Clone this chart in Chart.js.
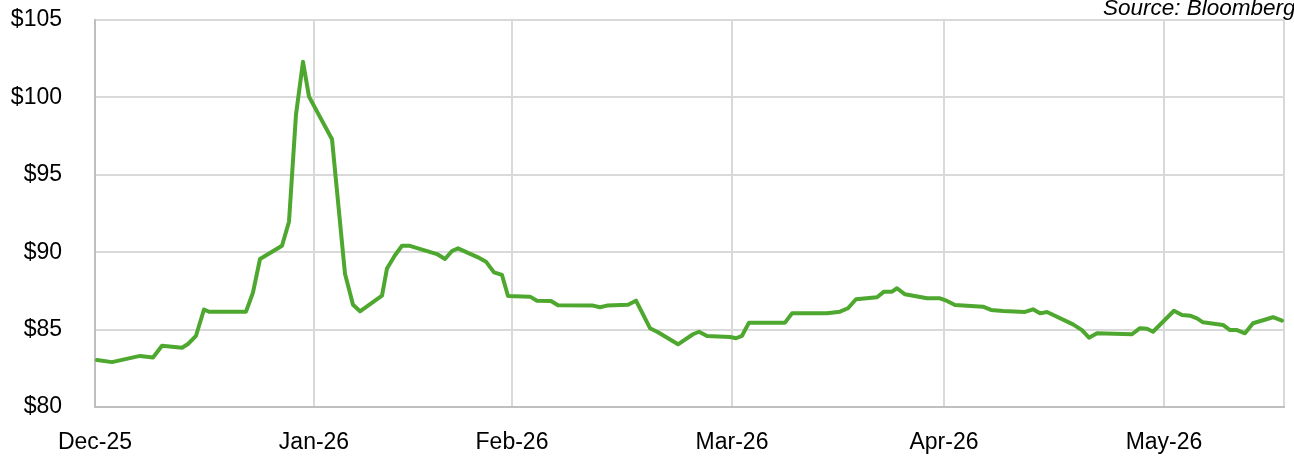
<!DOCTYPE html>
<html>
<head>
<meta charset="utf-8">
<title>Price</title>
<script src="https://cdn.jsdelivr.net/npm/chart.js@4.4.1/dist/chart.umd.min.js"></script>
<style>
  html, body { margin: 0; padding: 0; background: #ffffff; }
  #wrap { width: 1294px; height: 462px; position: relative; }
</style>
</head>
<body>
<div id="wrap"><canvas id="chart" width="1294" height="462"></canvas></div>
<script>
// Session position along the time axis (trading-day index) and closing price
const sessions = [
  0.2, 1.7, 4.5, 5.8, 6.7, 8.7, 9.3, 10.1, 10.9, 11.4,
  15.1, 15.8, 16.5, 18.7, 19.4, 20.1, 20.8, 21.4, 23.7, 25.0,
  25.8, 26.5, 28.7, 29.2, 30.0, 30.7, 31.4, 34.2, 35.0, 35.7,
  36.3, 38.3, 39.1, 39.9, 40.7, 41.3, 43.5, 44.2, 45.6, 46.3,
  49.8, 50.5, 51.2, 53.3, 54.1, 55.5, 56.3, 58.3, 59.8, 60.4,
  61.2, 63.5, 64.1, 64.7, 65.4, 69.0, 69.7, 73.2, 74.5, 75.3,
  76.1, 78.2, 78.9, 79.7, 80.2, 81.0, 83.2, 84.5, 85.2, 86.0,
  88.8, 89.6, 90.8, 93.0, 93.8, 94.5, 95.2, 97.8, 98.7, 99.4,
  100.2, 103.7, 104.5, 105.2, 105.8, 107.9, 108.7, 109.5, 110.2, 110.8,
  112.8, 113.5, 114.2, 115.0, 115.8, 117.8, 118.7
];
const prices = [
  83.04, 82.90, 83.30, 83.20, 83.96, 83.83, 84.07, 84.60, 86.30, 86.15,
  86.16, 87.40, 89.56, 90.42, 91.97, 98.90, 102.30, 100.05, 97.30, 88.60,
  86.60, 86.18, 87.19, 88.95, 89.80, 90.42, 90.42, 89.88, 89.56, 90.08,
  90.25, 89.67, 89.39, 88.70, 88.53, 87.17, 87.13, 86.87, 86.85, 86.57,
  86.55, 86.44, 86.55, 86.60, 86.87, 85.09, 84.83, 84.05, 84.70, 84.86,
  84.59, 84.52, 84.44, 84.60, 85.45, 85.45, 86.05, 86.05, 86.16, 86.38,
  86.96, 87.09, 87.45, 87.45, 87.67, 87.28, 87.02, 87.02, 86.85, 86.59,
  86.48, 86.27, 86.20, 86.14, 86.31, 86.05, 86.14, 85.34, 84.97, 84.48,
  84.76, 84.70, 85.09, 85.05, 84.86, 86.22, 85.94, 85.90, 85.73, 85.47,
  85.30, 84.97, 84.97, 84.76, 85.41, 85.80, 85.58
];

// Month boundaries on the session axis and their labels
const monthTicks = [0, 21.9, 41.7, 63.7, 84.9, 106.9];
const monthLabels = ['Dec-25', 'Jan-26', 'Feb-26', 'Mar-26', 'Apr-26', 'May-26'];
const axisEnd = 118.9;

const priceTicks = [80, 85, 90, 95, 100, 105];
const sourceNote = 'Source: Bloomberg';

const FONT = "'Liberation Sans', Arial, sans-serif";

const points = sessions.map((x, i) => ({ x: x, y: prices[i] }));

// Tick labels may overhang the plot edges; keep them from shrinking the plot area
function noLabelPadding(scale) {
  scale.paddingTop = 0;
  scale.paddingBottom = 0;
  scale.paddingLeft = 0;
  scale.paddingRight = 0;
}

const sourcePlugin = {
  id: 'sourceNote',
  afterDraw(chart) {
    const ctx = chart.ctx;
    ctx.save();
    ctx.font = 'italic 22.5px ' + FONT;
    ctx.fillStyle = '#000000';
    ctx.textAlign = 'left';
    ctx.textBaseline = 'alphabetic';
    ctx.fillText(sourceNote, 1103, 15);
    ctx.restore();
  }
};

new Chart(document.getElementById('chart'), {
  type: 'line',
  data: {
    datasets: [{
      data: points,
      borderColor: '#4ea72e',
      borderWidth: 4,
      pointRadius: 0,
      tension: 0,
      fill: false,
      borderJoinStyle: 'round',
      borderCapStyle: 'round'
    }]
  },
  options: {
    responsive: false,
    animation: false,
    layout: { autoPadding: false, padding: { top: 20, right: 10, left: 0, bottom: 0 } },
    plugins: {
      legend: { display: false },
      tooltip: { enabled: false }
    },
    scales: {
      x: {
        type: 'linear',
        min: 0,
        max: axisEnd,
        afterBuildTicks(scale) {
          scale.ticks = monthTicks.concat([axisEnd]).map(v => ({ value: v }));
        },
        afterFit(scale) {
          scale.height = 55;
          noLabelPadding(scale);
        },
        ticks: {
          autoSkip: false,
          maxRotation: 0,
          padding: 22,
          color: '#000000',
          font: { family: FONT, size: 23 },
          callback(value) {
            const i = monthTicks.indexOf(value);
            return i >= 0 ? monthLabels[i] : '';
          }
        },
        grid: { color: '#d9d9d9', lineWidth: 2, drawTicks: false },
        border: { color: '#bfbfbf', width: 2 }
      },
      y: {
        min: 80,
        max: 105,
        afterBuildTicks(scale) {
          scale.ticks = priceTicks.map(v => ({ value: v }));
        },
        afterFit(scale) {
          scale.width = 95;
          noLabelPadding(scale);
        },
        ticks: {
          padding: 33,
          color: '#000000',
          font: { family: FONT, size: 23 },
          callback(value) { return '$' + value; }
        },
        grid: { color: '#d9d9d9', lineWidth: 2, drawTicks: false },
        border: { color: '#bfbfbf', width: 2 }
      }
    }
  },
  plugins: [sourcePlugin]
});
</script>
</body>
</html>
